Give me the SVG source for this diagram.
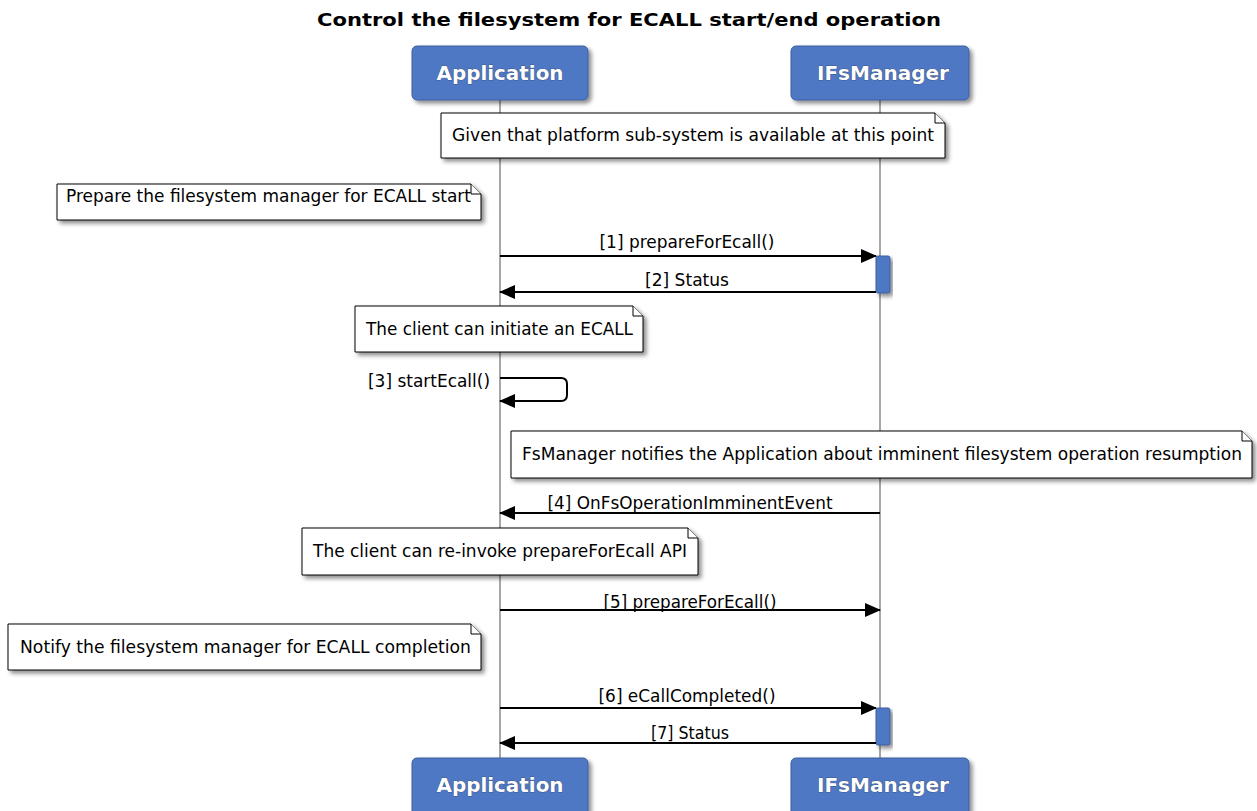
<svg xmlns="http://www.w3.org/2000/svg" width="1257" height="811" viewBox="0 0 1257 811">
<style>
.title{font-family:"DejaVu Sans",sans-serif;font-weight:bold;font-size:17px;fill:#000}
.ptext{font-family:"DejaVu Sans",sans-serif;font-weight:bold;font-size:19px;fill:#fff;stroke:#2a3550;stroke-width:0.6;paint-order:stroke}
.pbox{fill:#4f78c4;stroke:#3d5f9e;stroke-width:1}
.note{fill:#fff;stroke:#000;stroke-width:1}
.fold{fill:#fff;stroke:#000;stroke-width:1}
.ntext{font-family:"DejaVu Sans",sans-serif;font-size:17px;fill:#000}
.mtext{font-family:"DejaVu Sans",sans-serif;font-size:17px;fill:#000;text-anchor:middle}
.life{stroke:#8a8a8a;stroke-width:1.5}
.msg{stroke:#000;stroke-width:2;fill:none}
.act{fill:#4f78c4;stroke:#3d5f9e;stroke-width:1}
</style>
<defs>
<filter id="sh" x="-10%" y="-20%" width="130%" height="160%">
<feDropShadow dx="3" dy="3" stdDeviation="2" flood-color="#000" flood-opacity="0.45"/>
</filter>
<marker id="ah" markerWidth="16" markerHeight="14" refX="15" refY="7" orient="auto" markerUnits="userSpaceOnUse">
<path d="M0,0 L16,7 L0,14 Z" fill="#000"/>
</marker>
</defs>
<rect width="1257" height="811" fill="#fff"/>
<text class="title" x="629" y="26" text-anchor="middle" textLength="624" lengthAdjust="spacingAndGlyphs">Control the filesystem for ECALL start/end operation</text>

<g id="lifelines">
<line class="life" x1="500" y1="100" x2="500" y2="758"/>
<line class="life" x1="880" y1="100" x2="880" y2="758"/>
</g>

<g id="participant-application-top">
<rect class="pbox" x="412" y="46" width="176" height="54" rx="5" filter="url(#sh)"/>
<text class="ptext" x="500" y="80" text-anchor="middle" textLength="127" lengthAdjust="spacingAndGlyphs">Application</text>
</g>
<g id="participant-ifsmanager-top">
<rect class="pbox" x="791" y="46" width="178" height="54" rx="5" filter="url(#sh)"/>
<text class="ptext" x="883" y="80" text-anchor="middle" textLength="132" lengthAdjust="spacingAndGlyphs">IFsManager</text>
</g>
<g id="participant-application-bottom">
<rect class="pbox" x="412" y="758" width="176" height="60" rx="5" filter="url(#sh)"/>
<text class="ptext" x="500" y="792" text-anchor="middle" textLength="127" lengthAdjust="spacingAndGlyphs">Application</text>
</g>
<g id="participant-ifsmanager-bottom">
<rect class="pbox" x="791" y="758" width="178" height="60" rx="5" filter="url(#sh)"/>
<text class="ptext" x="883" y="792" text-anchor="middle" textLength="132" lengthAdjust="spacingAndGlyphs">IFsManager</text>
</g>

<g id="note1">
<path class="note" d="M441,113 H935 L945,123 V158 H441 Z" filter="url(#sh)"/>
<path class="fold" d="M935,113 V123 H945"/>
<text class="ntext" x="452" y="141" textLength="482" lengthAdjust="spacingAndGlyphs">Given that platform sub-system is available at this point</text>
</g>
<g id="note2">
<path class="note" d="M57,184 H471 L481,194 V220 H57 Z" filter="url(#sh)"/>
<path class="fold" d="M471,184 V194 H481"/>
<text class="ntext" x="66" y="202" textLength="405" lengthAdjust="spacingAndGlyphs">Prepare the filesystem manager for ECALL start</text>
</g>
<g id="note3">
<path class="note" d="M355,306 H633 L643,316 V352 H355 Z" filter="url(#sh)"/>
<path class="fold" d="M633,306 V316 H643"/>
<text class="ntext" x="366" y="335" textLength="267" lengthAdjust="spacingAndGlyphs">The client can initiate an ECALL</text>
</g>
<g id="note4">
<path class="note" d="M511,431 H1242 L1252,441 V478 H511 Z" filter="url(#sh)"/>
<path class="fold" d="M1242,431 V441 H1252"/>
<text class="ntext" x="522" y="460" textLength="720" lengthAdjust="spacingAndGlyphs">FsManager notifies the Application about imminent filesystem operation resumption</text>
</g>
<g id="note5">
<path class="note" d="M302,528 H688 L698,538 V575 H302 Z" filter="url(#sh)"/>
<path class="fold" d="M688,528 V538 H698"/>
<text class="ntext" x="313" y="557" textLength="374" lengthAdjust="spacingAndGlyphs">The client can re-invoke prepareForEcall API</text>
</g>
<g id="note6">
<path class="note" d="M8,624 H471 L481,634 V670 H8 Z" filter="url(#sh)"/>
<path class="fold" d="M471,624 V634 H481"/>
<text class="ntext" x="20" y="653" textLength="451" lengthAdjust="spacingAndGlyphs">Notify the filesystem manager for ECALL completion</text>
</g>

<g id="activations">
<rect class="act" x="876" y="256" width="14" height="37" rx="2" filter="url(#sh)"/>
<rect class="act" x="876" y="708" width="14" height="37" rx="2" filter="url(#sh)"/>
</g>

<g id="connectors">
<line class="msg" x1="500" y1="256" x2="876" y2="256" marker-end="url(#ah)"/>
<text class="mtext" x="687" y="248" textLength="175" lengthAdjust="spacingAndGlyphs">[1] prepareForEcall()</text>
<line class="msg" x1="876" y1="292" x2="500" y2="292" marker-end="url(#ah)"/>
<text class="mtext" x="687" y="286" textLength="84" lengthAdjust="spacingAndGlyphs">[2] Status</text>
<path class="msg" d="M500,378 H561 Q567,378 567,384 V395 Q567,401 561,401 H500" marker-end="url(#ah)"/>
<text class="mtext" x="429" y="387" textLength="122" lengthAdjust="spacingAndGlyphs">[3] startEcall()</text>
<line class="msg" x1="880" y1="513" x2="500" y2="513" marker-end="url(#ah)"/>
<text class="mtext" x="690" y="509" textLength="285" lengthAdjust="spacingAndGlyphs">[4] OnFsOperationImminentEvent</text>
<line class="msg" x1="500" y1="610" x2="880" y2="610" marker-end="url(#ah)"/>
<text class="mtext" x="690" y="608" textLength="173" lengthAdjust="spacingAndGlyphs">[5] prepareForEcall()</text>
<line class="msg" x1="500" y1="708" x2="876" y2="708" marker-end="url(#ah)"/>
<text class="mtext" x="687" y="702" textLength="177" lengthAdjust="spacingAndGlyphs">[6] eCallCompleted()</text>
<line class="msg" x1="876" y1="743" x2="500" y2="743" marker-end="url(#ah)"/>
<text class="mtext" x="690" y="739" textLength="78" lengthAdjust="spacingAndGlyphs">[7] Status</text>
</g>
</svg>
